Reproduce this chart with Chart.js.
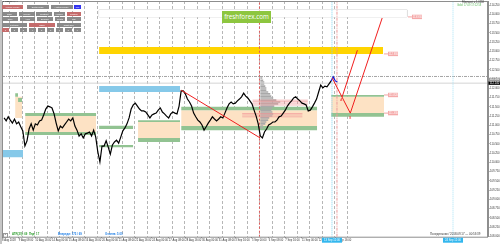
<!DOCTYPE html>
<html>
<head>
<meta charset="utf-8">
<title>USDJPY,H4</title>
<script src="https://cdn.jsdelivr.net/npm/chart.js"></script>
<style>
  html, body { margin: 0; padding: 0; background: #fff; }
  #box { position: relative; width: 500px; height: 244px; overflow: hidden; font-family: "Liberation Sans", Arial, sans-serif; }
  #box canvas { position: absolute; left: 0; top: 0; }
  .edge { position: absolute; left: 0; top: 0; width: 2px; height: 244px; background: #c6c6c6; }
  .b { position: absolute; height: 4.2px; line-height: 4.2px; background: #8a8a8a; color: #fff; font-size: 2.2px; text-align: center; white-space: nowrap; overflow: hidden; }
  .b.on { background: #c46c6c; }
  .b.blue { background: #3434ee; }
  .t { position: absolute; white-space: nowrap; line-height: 1; }
  #wm { position: absolute; left: 222px; top: 10.5px; width: 49px; height: 12px; background: #8dc63f; color: #fff; font: 6.3px "Open Sans", sans-serif; line-height: 12px; text-align: center; }
</style>
</head>
<body>
<div id="box">
  <canvas id="chart" width="500" height="244"></canvas>
  <div class="edge"></div>

  <div class="t" style="left:3px;top:0.6px;font-size:2.4px;color:#222">▾ USDJPY,H4</div>

  <div class="b on" style="left:2px;top:4.5px;width:21px">Volume Profile</div>
  <div class="b" style="left:26.5px;top:4.5px;width:22.5px">Delta Profile</div>
  <div class="b" style="left:50.5px;top:4.5px;width:22px">Auction Profile</div>
  <div class="b blue" style="left:74px;top:4.5px;width:7px">Full</div>

  <div class="b" style="left:2px;top:11.8px;width:15.3px">Daily</div>
  <div class="b" style="left:19px;top:11.8px;width:15.7px">Weekly</div>
  <div class="b" style="left:36px;top:11.8px;width:16.3px">Contract</div>
  <div class="b" style="left:53.5px;top:11.8px;width:11.5px">Volume</div>
  <div class="b on" style="left:66.7px;top:11.8px;width:14.3px">Custom</div>

  <div class="b" style="left:2px;top:17.2px;width:16.3px">Price</div>
  <div class="b" style="left:20px;top:17.2px;width:15px">Area</div>
  <div class="b" style="left:36.7px;top:17.2px;width:16.6px">Exclude</div>
  <div class="b" style="left:55px;top:17.2px;width:10px">Points</div>
  <div class="b" style="left:66.7px;top:17.2px;width:14.3px">Diff</div>

  <div class="b" style="left:2px;top:22.5px;width:24.7px">Left Side</div>
  <div class="b on" style="left:29.3px;top:22.5px;width:25.7px">Inside</div>
  <div class="b" style="left:56.7px;top:22.5px;width:24.3px">Right Side</div>

  <div class="b on" style="left:2px;top:27.8px;width:6.8px">1</div>
  <div class="b" style="left:11px;top:27.8px;width:6.8px">2</div>
  <div class="b" style="left:20px;top:27.8px;width:6.8px">3</div>
  <div class="b" style="left:29.3px;top:27.8px;width:6.8px">4</div>
  <div class="b" style="left:38.3px;top:27.8px;width:6.8px">5</div>
  <div class="b" style="left:47.3px;top:27.8px;width:6.8px">6</div>
  <div class="b" style="left:56px;top:27.8px;width:6.8px">7</div>
  <div class="b" style="left:65px;top:27.8px;width:6.8px">8</div>
  <div class="b" style="left:74px;top:27.8px;width:6.8px">9</div>

  <div id="wm">freshforex.com</div>

  <div class="t" style="left:462px;top:1.8px;font-size:2.6px;color:#333">Fibonacci = 1.0158</div>
  <div class="t" style="left:457px;top:4.8px;font-size:2.6px;color:#5cb85c">Gold: 17.09 17:12:58</div>

  <div class="t" style="left:2.5px;top:232.6px;width:3.4px;height:3.4px;border:0.5px solid #999;font-size:2.4px;text-align:center">1</div>
  <div class="t" style="left:12px;top:233.2px;font-size:2.8px;font-weight:bold;color:#2e9e2e">ATR(20): 69 &nbsp;Пнд: 17</div>
  <div class="t" style="left:58px;top:233.2px;font-size:2.8px;font-weight:bold;color:#1f7fe6">Впереди: 175 / 69</div>
  <div class="t" style="left:105px;top:233.2px;font-size:2.8px;font-weight:bold;color:#1f7fe6">Отмена: 5.00</div>
  <div class="t" style="left:430px;top:233.2px;font-size:2.9px;color:#333">Понедельник / 2018.09.17 — 00:53:39</div>
</div>

<script>
// --- données du graphique (barres H4, prix USDJPY) ---
const firstBar = 1;
const closes = [
  111.20, 111.12, 111.23, 111.14, 111.06, 111.17, 111.04, 111.09, 110.96, 110.85,
  110.44, 110.58, 110.90, 111.04, 110.87, 111.04, 111.01, 111.12, 111.14, 111.28,
  111.44, 111.52, 111.50, 111.47, 111.31, 111.06, 110.85, 110.98, 110.93, 111.01,
  111.09, 111.17, 111.12, 111.20, 110.98, 110.87, 110.71, 110.77, 110.66, 110.77,
  110.79, 110.82, 110.71, 110.87, 110.68, 110.28, 110.01, 110.44, 110.44, 110.58,
  110.41, 110.22, 110.47, 110.55, 110.60, 110.52, 110.68, 110.85, 110.93, 111.04,
  111.20, 111.44, 111.55, 111.60, 111.52, 111.44, 111.39, 111.39, 111.36, 111.28,
  111.20, 111.28, 111.31, 111.33, 111.41, 111.47, 111.36, 111.31, 111.25, 111.20,
  111.31, 111.36, 111.33, 111.31, 111.52, 111.93, 111.93, 111.85, 111.71, 111.63,
  111.52, 111.33, 111.23, 111.14, 111.09, 111.01, 110.87, 110.96, 111.06, 111.14,
  111.23, 111.17, 111.12, 111.17, 111.23, 111.20, 111.33, 111.47, 111.58, 111.63,
  111.58, 111.60, 111.66, 111.71, 111.77, 111.87, 111.79, 111.74, 111.66, 111.58,
  111.41, 111.25, 111.04, 110.71, 110.66, 110.82, 110.90, 111.01, 111.04, 111.09,
  111.09, 111.14, 111.23, 111.25, 111.33, 111.41, 111.52, 111.60, 111.66, 111.74,
  111.77, 111.71, 111.66, 111.60, 111.58, 111.55, 111.39, 111.41, 111.50, 111.60,
  111.71, 111.90, 112.09, 112.01, 112.06, 112.04, 112.12, 112.20, 112.31, 112.20,
  112.17
];
const liveFrom = 157;  // dernières barres en bleu

const dateBars = [0, 8, 16, 24, 32, 40, 48, 56, 64, 72, 80, 88, 96, 104, 112, 120, 128, 136, 144, 152, 160];
const dateLabels = ['8 Aug 2018', '9 Aug 08:00', '10 Aug 16:00', '14 Aug 00:00', '15 Aug 08:00', '16 Aug 16:00',
  '20 Aug 00:00', '21 Aug 08:00', '22 Aug 16:00', '24 Aug 00:00', '27 Aug 08:00', '28 Aug 16:00',
  '30 Aug 00:00', '31 Aug 08:00', '3 Sep 16:00', '5 Sep 00:00', '6 Sep 08:00', '7 Sep 16:00',
  '11 Sep 00:00', '12 Sep 08:00', '13 Sep 16:00'];
const daySeparators = [3.75, 9.75, 15.75, 21.75, 27.75, 33.75, 39.75, 45.75, 51.75, 57.75, 63.75, 69.75, 75.75, 81.75,
  87.75, 93.75, 99.75, 105.75, 111.75, 117.75, 123.75, 129.75, 135.75, 141.75, 147.75, 153.75, 159.75, 165.75];
const yTicks = [108.00, 108.25, 108.50, 108.75, 109.00, 109.25, 109.50, 109.75, 110.00, 110.25, 110.50, 110.75,
  111.00, 111.25, 111.50, 111.75, 112.00, 112.25, 112.50, 112.75, 113.00, 113.25, 113.50, 113.75, 114.00, 114.25];
const xMin = 0, xMax = 233.3, yMin = 107.99, yMax = 114.36;

// zones [début, fin, haut, bas]
const supplyZones = [[11.1, 45.2, 111.25, 110.82], [65.3, 85.5, 111.09, 110.66], [86.0, 151.3, 111.41, 110.98],
  [158.0, 183.4, 111.77, 111.33], [6.3, 9.6, 111.77, 111.20]];
const greenBands = [[11.1, 45.2, 111.33, 111.25], [11.1, 45.2, 110.82, 110.74], [65.3, 85.5, 111.14, 111.09],
  [65.3, 85.5, 110.66, 110.55], [86.0, 151.3, 111.50, 111.41], [86.0, 151.3, 110.98, 110.87],
  [158.0, 183.4, 111.82, 111.77], [158.0, 183.4, 111.33, 111.23], [6.3, 7.7, 111.87, 111.77],
  [7.7, 9.6, 111.74, 111.63], [46.6, 63.0, 110.99, 110.90], [46.6, 63.0, 110.47, 110.41]];
const blueZones = [[46.6, 85.5, 112.06, 111.90], [0, 10.1, 110.33, 110.14]];
const goldZones = [[46.6, 182.9, 113.12, 112.93]];
const emptyZones = [[46.6, 194.4, 114.12, 113.93]];

// profil de volume
const profileStart = 124;
const profileLevels = [112.28, 112.22, 112.17, 112.12, 112.06, 112.01, 111.95, 111.90, 111.85, 111.79, 111.74, 111.68, 111.63,
  111.58, 111.52, 111.47, 111.41, 111.36, 111.31, 111.25, 111.20, 111.14, 111.09, 111.04, 110.98, 110.93];
const profileVolumes = [1.0, 1.4, 1.9, 1.9, 2.4, 2.9, 2.9, 3.8, 4.8, 5.3, 6.2, 7.7, 9.6,
  8.6, 6.7, 5.8, 5.3, 5.8, 6.2, 5.8, 4.3, 3.8, 2.9, 2.4, 1.4, 1.0];
const pocLevels = [111.68, 111.64, 111.60, 111.55, 111.32, 111.28, 111.23];
const pocFrom = [120.3, 120.3, 120.3, 120.3, 115.3, 115.3, 115.3];
const pocTo = [146.8, 146.8, 146.8, 146.8, 144.2, 144.2, 144.2];

// lignes
const trendBars = [86.0, 123.9], trendPrices = [111.95, 110.66];
const zigBars = [158.5, 167.2, 182.5], zigPrices = [112.28, 111.33, 113.90];
const branchBars = [163.3, 170.6], branchPrices = [111.77, 113.03];
const vLineBars = [123.6, 158.4, 160.8, 216.5];
const askLevel = 112.32, bidLevel = 112.14, highLevel = 112.24;
const tagBars = [185.3, 196.8, 185.3, 185.3], tagPrices = [112.93, 113.93, 111.82, 111.33];
const timeBoxBars = [158.4, 216.5], timeBoxLabels = ['13 Sep 12:00', '24 Sep 12:00'];

// --- construction des séries ---
const base = { pointRadius: 0, pointHoverRadius: 0, tension: 0 };
const datasets = [];

function zone(r, color, order) {
  datasets.push({ ...base, data: [{ x: r[0], y: r[2] }, { x: r[1], y: r[2] }], fill: { value: r[3] },
    backgroundColor: color, borderColor: 'rgba(0,0,0,0)', borderWidth: 1, order });
}
supplyZones.forEach(r => zone(r, '#fde2c4', 10));
greenBands.forEach(r => zone(r, '#92c392', 9));
blueZones.forEach(r => zone(r, '#86c9e9', 8));
goldZones.forEach(r => zone(r, '#ffd400', 8));
emptyZones.forEach(r => {
  zone(r, '#ffffff', 8);
  datasets.push({ ...base, data: [{ x: r[0], y: r[2] }, { x: r[1], y: r[2] }, { x: r[1], y: r[3] }, { x: r[0], y: r[3] }, { x: r[0], y: r[2] }],
    borderColor: '#dadada', borderWidth: 1, fill: false, order: 8 });
});

const profilePts = [];
profileLevels.forEach((p, i) => {
  profilePts.push({ x: profileStart, y: p }, { x: profileStart + profileVolumes[i], y: p }, { x: profileStart, y: null });
});
datasets.push({ ...base, data: profilePts, borderColor: '#a9a9a9', borderWidth: 1.6, spanGaps: false, fill: false, order: 7 });

const pocPts = [];
pocLevels.forEach((p, i) => { pocPts.push({ x: pocFrom[i], y: p }, { x: pocTo[i], y: p }, { x: pocFrom[i], y: null }); });
datasets.push({ ...base, data: pocPts, borderColor: '#f19a9a', borderWidth: 0.7, spanGaps: false, fill: false, order: 6 });

const vStyles = [
  { color: '#e25a5a', dash: [2, 2] },
  { color: '#7fd6f2', dash: [1, 1] },
  { color: '#eb9a9a', dash: [3, 1, 1, 1] },
  { color: '#a6e2f5', dash: [1, 1] }
];
vLineBars.forEach((b, i) => {
  datasets.push({ ...base, data: [{ x: b, y: yMin }, { x: b, y: yMax }], borderColor: vStyles[i].color,
    borderDash: vStyles[i].dash, borderWidth: 1, fill: false, order: 5 });
});
datasets.push({ ...base, data: [{ x: xMin, y: askLevel }, { x: xMax, y: askLevel }], borderColor: '#a4a4a4',
  borderDash: [3, 1, 1, 1], borderWidth: 1, fill: false, order: 5 });
datasets.push({ ...base, data: [{ x: xMin, y: bidLevel }, { x: xMax, y: bidLevel }], borderColor: '#d4d4d4',
  borderWidth: 1, fill: false, order: 5 });

datasets.push({ ...base, data: closes.map((c, i) => ({ x: firstBar + i, y: c })), borderColor: '#000', borderWidth: 1.2,
  fill: false, order: 2, segment: { borderColor: s => s.p0DataIndex >= liveFrom ? '#1414d8' : undefined } });

[[trendBars, trendPrices], [zigBars, zigPrices], [branchBars, branchPrices]].forEach(([bs, ps]) => {
  datasets.push({ ...base, data: bs.map((b, i) => ({ x: b, y: ps[i] })), borderColor: '#f01e1e', borderWidth: 1,
    fill: false, order: 1 });
});

// --- dessins complémentaires ---
const overlay = {
  id: 'overlay',
  afterDraw(chart) {
    const { ctx, chartArea: a, scales: { x, y } } = chart;
    ctx.save();
    ctx.strokeStyle = '#8e8e8e';
    ctx.lineWidth = 1;
    ctx.strokeRect(a.left + 0.5, a.top + 0.5, a.right - a.left - 1, a.bottom - a.top);

    ctx.font = '2.6px "Liberation Sans", Arial';
    ctx.textBaseline = 'middle';
    tagBars.forEach((b, i) => {
      const px = x.getPixelForValue(b), py = y.getPixelForValue(tagPrices[i]);
      ctx.strokeStyle = '#f2a4a4';
      ctx.beginPath(); ctx.moveTo(px - 4, py); ctx.lineTo(px, py); ctx.stroke();
      ctx.fillStyle = '#f5a9a9';
      ctx.fillRect(px, py - 2.2, 10, 4.4);
      ctx.fillStyle = '#fff';
      ctx.fillText(tagPrices[i].toFixed(3), px + 0.8, py + 0.2);
    });

    ctx.fillStyle = '#f01e1e';
    ctx.font = '3px "Liberation Sans", Arial';
    ctx.textAlign = 'center';
    ctx.fillText('A', x.getPixelForValue(branchBars[0]) - 1, y.getPixelForValue(branchPrices[0]) + 3);
    ctx.fillText('B', x.getPixelForValue(zigBars[1]), y.getPixelForValue(zigPrices[1]) + 5);

    ctx.font = '2.7px "Liberation Sans", Arial';
    ctx.textAlign = 'left';
    [[highLevel, '#9a9a9a'], [bidLevel, '#000']].forEach(([lv, bg]) => {
      const py = y.getPixelForValue(lv);
      ctx.fillStyle = bg;
      ctx.fillRect(a.right + 0.5, py - 1.7, 11.5, 3.4);
      ctx.fillStyle = '#fff';
      ctx.fillText(lv.toFixed(3), a.right + 1.8, py + 0.1);
    });

    ctx.textAlign = 'center';
    timeBoxBars.forEach((b, i) => {
      const px = x.getPixelForValue(b);
      ctx.fillStyle = '#33b7ee';
      ctx.fillRect(px - 10, a.bottom + 1, 20, 5);
      ctx.fillStyle = '#fff';
      ctx.fillText(timeBoxLabels[i], px, a.bottom + 3.6);
    });
    ctx.restore();
  }
};

new Chart(document.getElementById('chart'), {
  type: 'line',
  data: { datasets },
  options: {
    responsive: false,
    animation: false,
    events: [],
    devicePixelRatio: 1,
    layout: { padding: { left: 2, top: 1, right: 0, bottom: 0 } },
    plugins: { legend: { display: false }, tooltip: { enabled: false } },
    scales: {
      x: {
        type: 'linear', min: xMin, max: xMax, position: 'bottom',
        afterBuildTicks: s => { s.ticks = daySeparators.map(v => ({ value: v })); },
        afterFit: s => { s.height = 0; s.paddingLeft = 0; s.paddingRight = 0; },
        grid: { color: '#b6b6b6', lineWidth: 1, drawTicks: false },
        border: { display: false, dash: [3, 2] },
        ticks: { display: false }
      },
      xl: {
        type: 'linear', min: xMin, max: xMax, position: 'bottom',
        afterBuildTicks: s => { s.ticks = dateBars.map(v => ({ value: v })); },
        afterFit: s => { s.height = 7.3; s.paddingLeft = 0; s.paddingRight = 0; },
        grid: { drawOnChartArea: false, tickLength: 1.5, color: '#777' },
        border: { display: false },
        ticks: { autoSkip: false, maxRotation: 0, minRotation: 0, align: 'start', padding: 0.6, color: '#333',
          font: { size: 2.7, family: '"Liberation Sans", Arial' }, callback: (v, i) => dateLabels[i] }
      },
      y: {
        type: 'linear', min: yMin, max: yMax, position: 'right',
        afterBuildTicks: s => { s.ticks = yTicks.map(v => ({ value: v })); },
        afterFit: s => { s.width = 12; s.paddingTop = 0; s.paddingBottom = 0; },
        grid: { drawOnChartArea: false, tickLength: 1.5, color: '#777' },
        border: { color: '#8e8e8e' },
        ticks: { autoSkip: false, padding: 0.6, color: '#333', font: { size: 2.7, family: '"Liberation Sans", Arial' },
          callback: v => v.toFixed(3) }
      }
    }
  },
  plugins: [overlay]
});
</script>
</body>
</html>
